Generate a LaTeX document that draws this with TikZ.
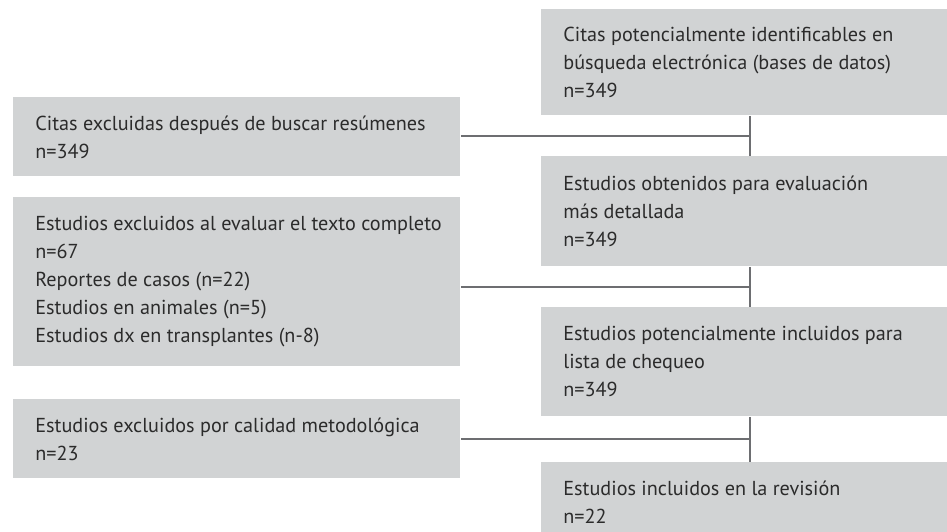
\documentclass[tikz,border=0pt]{standalone}
\usepackage{fontspec}
\setmainfont{PT Sans}
\usepackage{xcolor}
\usepackage{tikz}
\usetikzlibrary{positioning}

\definecolor{boxgray}{HTML}{D1D3D4}
\definecolor{linegray}{HTML}{6D6E71}
\definecolor{textgray}{HTML}{2B2B2B}

\begin{document}
\begin{tikzpicture}[x=0.5pt, y=-0.5pt]
			\tikzstyle{every node}=[font=\fontsize{10.1}{14}\selectfont, text=textgray];
			\tikzstyle{rbox}=[fill=boxgray, anchor=north west, minimum width=203pt, inner sep=0pt];
			\tikzstyle{lbox}=[fill=boxgray, anchor=north west, minimum width=223.5pt, inner sep=0pt];
			\tikzstyle{txt}=[align=left, inner sep=0pt];
			\tikzstyle{link}=[linegray, line width=1pt];
			
			\useasboundingbox (0,0) rectangle (947,531);
			
			%Right column
			\node[rbox, minimum height=53pt] (r1) at (541, 9) {};
			\node[rbox, minimum height=55pt] (r2) at (541, 156) {};
			\node[rbox, minimum height=54.5pt] (r3) at (541, 307) {};
			\node[rbox, minimum height=39.5pt] (r4) at (541, 462) {};
			\node[txt, right=11pt of r1.west] (r1t) {Citas potencialmente identificables en\\búsqueda electrónica (bases de datos)\\n=349};
			\node[txt, right=11pt of r2.west] (r2t) {Estudios obtenidos para evaluación\\más detallada\\n=349};
			\node[txt, right=11pt of r3.west] (r3t) {Estudios potencialmente incluidos para\\lista de chequeo\\n=349};
			\node[txt, right=11pt of r4.west] (r4t) {Estudios incluidos en la revisión\\n=22};
			
			%Left column
			\node[lbox, minimum height=39.5pt] (l1) at (13, 97) {};
			\node[lbox, minimum height=84.5pt] (l2) at (13, 197) {};
			\node[lbox, minimum height=39.5pt] (l3) at (13, 399) {};
			\node[txt, right=11pt of l1.west] (l1t) {Citas excluidas después de buscar resúmenes\\n=349};
			\node[txt, right=11pt of l2.west] (l2t) {Estudios excluidos al evaluar el texto completo\\n=67\\Reportes de casos (n=22)\\Estudios en animales (n=5)\\Estudios dx en transplantes (n-8)};
			\node[txt, right=11pt of l3.west] (l3t) {Estudios excluidos por calidad metodológica\\n=23};
			
			%Connectors
			\coordinate (spine) at (750, 0);
			\draw[link] (r1.south -| spine) -- coordinate (j1) (r2.north -| spine);
			\draw[link] (r2.south -| spine) -- coordinate (j2) (r3.north -| spine);
			\draw[link] (r3.south -| spine) -- coordinate (j3) (r4.north -| spine);
			\draw[link] (l1.east |- j1) -- (j1);
			\draw[link] (l2.east |- j2) -- (j2);
			\draw[link] (l3.east |- j3) -- (j3);
\end{tikzpicture}
\end{document}
